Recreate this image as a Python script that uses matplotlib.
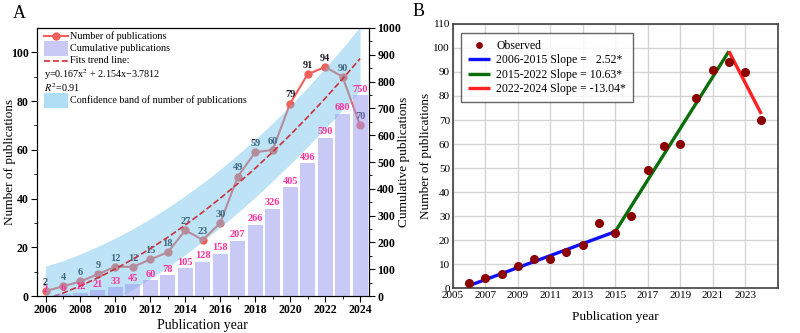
import numpy as np
import matplotlib
matplotlib.use("Agg")
import matplotlib.pyplot as plt
from matplotlib.lines import Line2D
from matplotlib.patches import Rectangle

plt.rcParams['font.family'] = ['Liberation Serif', 'DejaVu Serif']
plt.rcParams['mathtext.fontset'] = 'stix'

years = np.arange(2006, 2025)
pubs = [2, 4, 6, 9, 12, 12, 15, 18, 27, 23, 30, 49, 59, 60, 79, 91, 94, 90, 70]
cumul = [2, 6, 12, 21, 33, 45, 60, 78, 105, 128, 158, 207, 266, 326, 405, 496, 590, 680, 750]
# trend line coefficients from the legend (x = 1..19)
fit_a, fit_b, fit_c = 0.167, 2.154, -3.7812
# confidence band
band_hi = [12.3, 14.5, 17.3, 20.4, 23.8, 27.6, 31.8, 36.3, 41.2, 46.4, 52.0, 58.0, 64.3, 71.0, 78.1, 85.6, 93.5, 101.8, 110.5]
band_lo = [-15, -12, -8.8, -5.3, -1.5, 2.7, 7.2, 11.9, 17.0, 22.5, 28.2, 34.2, 40.5, 47.2, 54.1, 61.3, 68.7, 76.4, 84.4]

# panel B segments
seg_years = [2006, 2015, 2022, 2024]
seg_vals = [1.0, 23.5, 98.6, 72.5]
seg_cols = ['#1010ff', '#0a6e0a', '#ff2020']
seg_labels = ['2006-2015 Slope =   2.52*', '2015-2022 Slope = 10.63*', '2022-2024 Slope = -13.04*']

fig = plt.figure(figsize=(8, 3.33), dpi=100)

# ---------------- panel A
ax = fig.add_axes([0.046, 0.111, 0.415, 0.805])
ax2 = ax.twinx()
line_col = '#f0605a'
band_col = '#6fc3ec'
ax.plot(years, pubs, '-o', color=line_col, ms=5, lw=1.5, zorder=2)
for x, v in zip(years, pubs):
    ax.annotate(str(v), (x, v), xytext=(0, 3), textcoords='offset points', ha='center', va='bottom',
                fontsize=7.5, fontweight='bold', color='#1e1e2a', zorder=2.5)
ax.fill_between(years, band_lo, band_hi, color=band_col, alpha=0.45, lw=0, zorder=3)
xf = np.arange(1, len(years) + 1)
trend = fit_a * xf**2 + fit_b * xf + fit_c
ax.plot(years, trend, '--', color='#c8323c', lw=1.2, zorder=4)
ax.set_xlim(2005.5, 2024.5)
ax.set_ylim(0, 110)
ax.set_xticks(np.arange(2006, 2025, 2))
ax.set_xticks(years, minor=True)
ax.set_yticks([0, 20, 40, 60, 80, 100])
ax.set_yticks(np.arange(10, 110, 20), minor=True)
ax.tick_params(labelsize=8.5, direction='out', length=4, pad=2)
ax.tick_params(which='minor', length=2.5)
for lab in ax.get_xticklabels() + ax.get_yticklabels():
    lab.set_fontweight('bold')
ax.set_xlabel('Publication year', fontsize=10, labelpad=2)
ax.set_ylabel('Number of publications', fontsize=9.5)
ax.yaxis.set_label_coords(-0.064, 0.5)

ax2.bar(years, cumul, width=0.86, color='#9d9df0', alpha=0.55, zorder=1)
for x, v in zip(years, cumul):
    ax2.annotate(str(v), (x, v), xytext=(0, 1), textcoords='offset points', ha='center', va='bottom',
                 fontsize=7.5, fontweight='bold', color='#ff3399')
ax2.set_ylim(0, 1000)
ax2.set_yticks(np.arange(0, 1001, 100))
ax2.set_yticks(np.arange(50, 1000, 100), minor=True)
ax2.tick_params(labelsize=8.5, direction='out', length=4, pad=2)
ax2.tick_params(which='minor', length=2.5)
for lab in ax2.get_yticklabels():
    lab.set_fontweight('bold')
ax2.set_ylabel('Cumulative publications', fontsize=9.5)
ax2.yaxis.set_label_coords(1.088, 0.5)

# legend of panel A
tr = ax.transAxes
rows = [0.970, 0.922, 0.877, 0.825, 0.776, 0.731]
hx0, hx1, tx = 0.021, 0.093, 0.100
ax.add_line(Line2D([hx0, hx1], [rows[0]] * 2, color=line_col, lw=1.5, transform=tr))
ax.add_line(Line2D([(hx0 + hx1) / 2], [rows[0]], marker='o', color=line_col, ms=5, transform=tr))
ax.add_patch(Rectangle((hx0, rows[1] - 0.028), hx1 - hx0, 0.056, color='#9d9df0', alpha=0.55, lw=0, transform=tr))
ax.add_line(Line2D([hx0, hx1], [rows[2]] * 2, color='#c8323c', lw=1.2, ls='--', transform=tr))
ax.add_patch(Rectangle((hx0, rows[5] - 0.028), hx1 - hx0, 0.056, color=band_col, alpha=0.55, lw=0, transform=tr))
legend_texts = ['Number of publications', 'Cumulative publications', 'Fits trend line:', None, None,
                'Confidence band of number of publications']
for r, t in zip(rows, legend_texts):
    if t:
        ax.text(tx, r, t, transform=tr, fontsize=7.3, va='center', ha='left', zorder=6)
ax.text(hx0, rows[3], 'y=0.167x$^2$ + 2.154x\u22123.7812', transform=tr, fontsize=7.3, va='center', zorder=6)
ax.text(hx0, rows[4], '$R^2$=0.91', transform=tr, fontsize=7.3, va='center', zorder=6)

fig.text(0.016, 0.96, 'A', fontsize=13, va='center')

# ---------------- panel B
bx = fig.add_axes([0.566, 0.135, 0.406, 0.793])
bx.grid(True, color='#d4d4d4', lw=1)
bx.set_axisbelow(True)
for i in range(3):
    bx.plot(seg_years[i:i + 2], seg_vals[i:i + 2], color=seg_cols[i], lw=2.4, label=seg_labels[i],
            solid_capstyle='butt', zorder=3)
bx.plot(years, pubs, 'o', color='#8b0000', ms=5.5, ls='none', label='Observed', zorder=4)
bx.set_xlim(2005, 2025)
bx.set_ylim(0, 110)
bx.set_xticks(np.arange(2005, 2025, 2))
bx.set_yticks(np.arange(0, 111, 10))
bx.tick_params(labelsize=8, length=0, pad=2)
for s in bx.spines.values():
    s.set_color('#404040')
    s.set_linewidth(1.2)
bx.set_xlabel('Publication year', fontsize=9.5, labelpad=8)
bx.set_ylabel('Number of publications', fontsize=9.5)
bx.yaxis.set_label_coords(-0.065, 0.5)
h, l = bx.get_legend_handles_labels()
order = [3, 0, 1, 2]
leg = bx.legend([h[i] for i in order], [l[i] for i in order], loc='upper left',
                bbox_to_anchor=(0.025, 0.966), borderaxespad=0, fontsize=8.5, frameon=True,
                fancybox=False, edgecolor='#404040', handlelength=1.9, handletextpad=0.5,
                labelspacing=0.2, borderpad=0.6, markerscale=0.7)
leg.get_frame().set_linewidth(1.0)

fig.text(0.516, 0.965, 'B', fontsize=13, va='center')

fig.savefig('out.png', dpi=100)
